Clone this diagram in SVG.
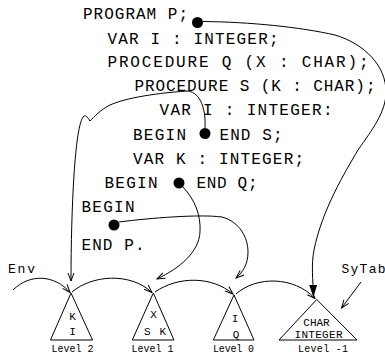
<svg xmlns="http://www.w3.org/2000/svg" width="385" height="354" viewBox="0 0 385 354">
<style>
.code{font-family:"Liberation Mono","Courier New",monospace;font-size:16px;fill:#000}
.sm{font-family:"Liberation Mono","Courier New",monospace;font-size:11px;fill:#000}
.lv{font-family:"Liberation Mono","Courier New",monospace;font-size:10px;fill:#000}
.lb{font-family:"Liberation Mono","Courier New",monospace;font-size:13px;fill:#000}
.c{fill:none;stroke:#000;stroke-width:1}
.tri{fill:#fff;stroke:#000;stroke-width:1}
.dot{fill:#000}
</style>
<defs>
<marker id="ah" viewBox="0 0 10 8" refX="9" refY="4" markerWidth="10" markerHeight="8" markerUnits="userSpaceOnUse" orient="auto">
<path d="M1,1 L9,4 L1,7" fill="none" stroke="#000" stroke-width="1"/>
</marker>
<marker id="big" viewBox="0 0 12 8" refX="12" refY="4" markerWidth="12" markerHeight="8" markerUnits="userSpaceOnUse" orient="auto">
<path d="M0,0 L12,4 L0,8 Z" fill="#000"/>
</marker>
</defs>
<g id="code">
<text class="code" x="83" y="18.5" textLength="105" lengthAdjust="spacing">PROGRAM P;</text>
<text class="code" x="107.5" y="43.8" textLength="171" lengthAdjust="spacing">VAR I : INTEGER;</text>
<text class="code" x="107.5" y="67" textLength="261" lengthAdjust="spacing">PROCEDURE Q (X : CHAR);</text>
<text class="code" x="134.5" y="90.5" textLength="241" lengthAdjust="spacing">PROCEDURE S (K : CHAR);</text>
<text class="code" x="159.5" y="115" textLength="173" lengthAdjust="spacing">VAR I : INTEGER:</text>
<text class="code" x="133" y="140" textLength="53" lengthAdjust="spacing">BEGIN</text>
<text class="code" x="219.5" y="140" textLength="63" lengthAdjust="spacing">END S;</text>
<text class="code" x="133" y="164" textLength="171" lengthAdjust="spacing">VAR K : INTEGER;</text>
<text class="code" x="104.5" y="188" textLength="53" lengthAdjust="spacing">BEGIN</text>
<text class="code" x="196.5" y="188" textLength="61" lengthAdjust="spacing">END Q;</text>
<text class="code" x="81.5" y="212" textLength="53" lengthAdjust="spacing">BEGIN</text>
<text class="code" x="81.5" y="250" textLength="63" lengthAdjust="spacing">END P.</text>
</g>
<g id="dots">
<circle class="dot" cx="197.5" cy="22.5" r="5.5"/>
<circle class="dot" cx="205" cy="133.5" r="5.5"/>
<circle class="dot" cx="179" cy="183" r="5.5"/>
<circle class="dot" cx="114" cy="225" r="5.5"/>
</g>
<g id="level2">
<polygon class="tri" points="71,293 50.5,340 92.5,340"/>
<text class="sm" x="72.5" y="320" text-anchor="middle">K</text>
<text class="sm" x="72.5" y="334.5" text-anchor="middle">I</text>
<text class="lv" x="51.5" y="352" textLength="42" lengthAdjust="spacing">Level 2</text>
</g>
<g id="level1">
<polygon class="tri" points="153.3,293 132.3,340 174,340"/>
<text class="sm" x="153.5" y="318" text-anchor="middle">X</text>
<text class="sm" x="155" y="334.5" text-anchor="middle" textLength="22" lengthAdjust="spacing">S K</text>
<text class="lv" x="131.5" y="352" textLength="42" lengthAdjust="spacing">Level 1</text>
</g>
<g id="level0">
<polygon class="tri" points="234,295 213.3,340 254,340"/>
<text class="sm" x="235" y="321.5" text-anchor="middle">I</text>
<text class="sm" x="236" y="337.5" text-anchor="middle">Q</text>
<text class="lv" x="213" y="352" textLength="41" lengthAdjust="spacing">Level 0</text>
</g>
<g id="levelm1">
<polygon class="tri" points="316.7,299.5 279,340 357,340"/>
<text class="sm" x="316.5" y="326" text-anchor="middle">CHAR</text>
<text class="sm" x="318.5" y="337.5" text-anchor="middle" textLength="48" lengthAdjust="spacing">INTEGER</text>
<text class="lv" x="298" y="352" textLength="50" lengthAdjust="spacing">Level -1</text>
</g>
<g id="labels">
<text class="lb" x="8" y="272.5" textLength="27" lengthAdjust="spacing">Env</text>
<text class="lb" x="341.5" y="273" textLength="44" lengthAdjust="spacing">SyTab</text>
</g>
<g id="connectors">
<path class="c" marker-end="url(#big)" d="M203,21.5 C250,22 300,27 335,35 C365,44 386,66 386,92 C386,112 372,130 358,150 C345,172 322,210 314,250 C311,265 313,280 313.5,297"/>
<path class="c" marker-end="url(#ah)" d="M205,128 C206,110 201,93 188,91 C170,92 130,96 110,105 C100,110 94,117 90,121 C88,118 86,115 84,116 C79,120 76,145 74,175 C72,205 71,245 71,281"/>
<path class="c" marker-end="url(#ah)" d="M183,187 C195,200 201,215 200,232 C199,252 180,268 157,279"/>
<path class="c" marker-end="url(#ah)" d="M119,222 C150,218 200,214 222,217 C240,222 248,238 248,252 C248,264 243,272 236,278"/>
<path class="c" marker-end="url(#ah)" d="M13,290 C30,273 55,275 70,292.5"/>
<path class="c" marker-end="url(#ah)" d="M72,292 C92,275 130,272 152,292.5"/>
<path class="c" marker-end="url(#ah)" d="M155,292 C178,276 212,276 233,294"/>
<path class="c" marker-end="url(#ah)" d="M236,294 C256,276 294,276 315,298.5"/>
<path class="c" marker-end="url(#ah)" d="M361,282 L341.5,308"/>
</g>
</svg>
